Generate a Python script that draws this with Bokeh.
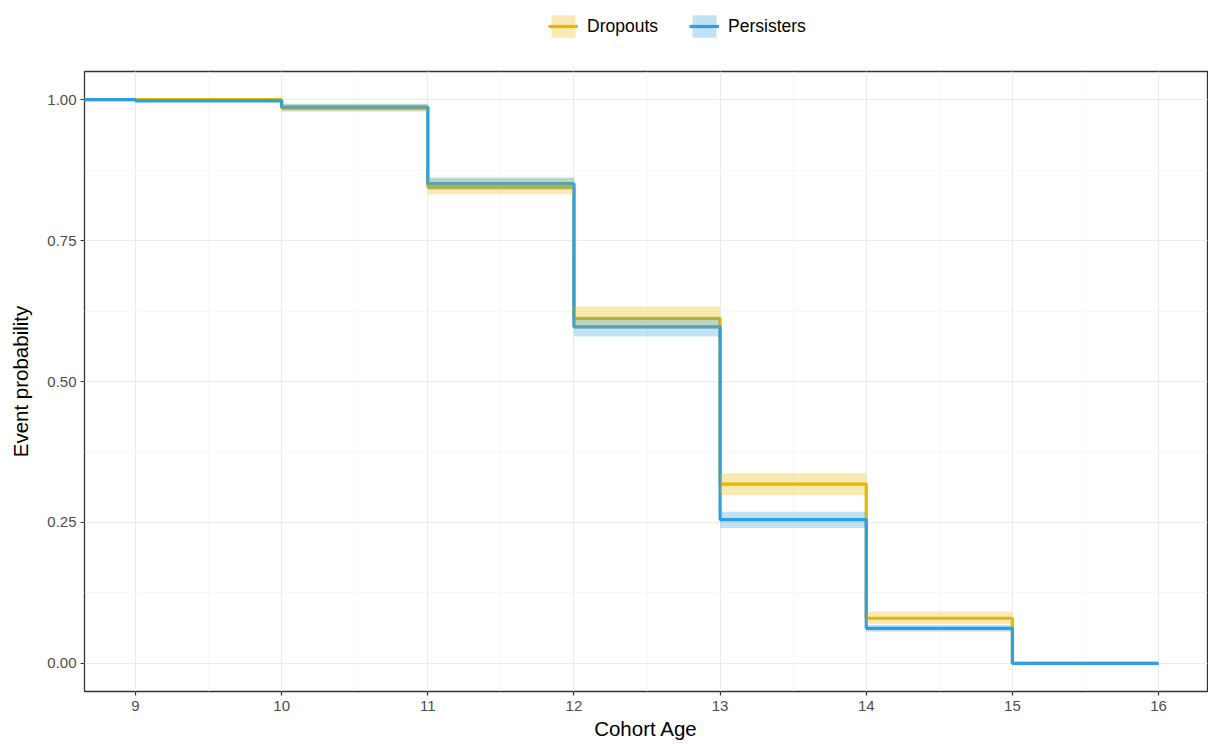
from bokeh.plotting import figure
from bokeh.layouts import column
from bokeh.models import (Range1d, SingleIntervalTicker, Legend, LegendItem,
                          ColumnDataSource, NumeralTickFormatter)
from bokeh.embed import file_html
from bokeh.resources import INLINE

# ---- data ----
time = [8, 9, 10, 11, 12, 13, 14, 15, 16]
drop_surv = [1.0, 1.0, 0.985, 0.845, 0.612, 0.318, 0.080, 0.0, 0.0]
drop_low = [1.0, 1.0, 0.978, 0.832, 0.594, 0.298, 0.070, 0.0, 0.0]
drop_high = [1.0, 1.0, 0.992, 0.860, 0.633, 0.337, 0.092, 0.0, 0.0]
pers_surv = [1.0, 0.998, 0.987, 0.851, 0.597, 0.255, 0.062, 0.0, 0.0]
pers_low = [1.0, 0.996, 0.981, 0.840, 0.580, 0.240, 0.056, 0.0, 0.0]
pers_high = [1.0, 1.0, 0.993, 0.862, 0.614, 0.269, 0.068, 0.0, 0.0]
groups = ["Dropouts", "Persisters"]
colors = ["#E7B800", "#2E9FDF"]

FONT = "Liberation Sans"
W = 1208
TOP_H = 70

series = [
    (drop_surv, drop_low, drop_high),
    (pers_surv, pers_low, pers_high),
]
line_srcs = [ColumnDataSource(dict(x=time, y=s)) for (s, lo, hi) in series]
band_srcs = [ColumnDataSource(dict(x=time, y1=lo, y2=hi)) for (s, lo, hi) in series]

# ---------- main plot ----------
p = figure(width=W, height=745 - TOP_H, output_backend="svg", toolbar_location=None,
           x_range=Range1d(8.651, 16.335), y_range=Range1d(-0.05, 1.05),
           min_border_left=84, min_border_right=1, min_border_top=1,
           min_border_bottom=54)

p.background_fill_color = "white"
p.border_fill_color = "white"
p.outline_line_color = "#333333"
p.outline_line_width = 1.3

p.xaxis.ticker = SingleIntervalTicker(interval=1, num_minor_ticks=2)
p.yaxis.ticker = SingleIntervalTicker(interval=0.25, num_minor_ticks=2)
for g in (p.xgrid, p.ygrid):
    g.grid_line_color = "#EBEBEB"
    g.grid_line_width = 1.2
    g.minor_grid_line_color = "#F3F3F3"
    g.minor_grid_line_width = 0.7

p.yaxis.formatter = NumeralTickFormatter(format="0.00")
for ax in (p.xaxis, p.yaxis):
    ax.axis_line_color = None
    ax.major_tick_line_color = "#333333"
    ax.major_tick_line_width = 1.2
    ax.major_tick_out = 4
    ax.major_tick_in = 0
    ax.minor_tick_line_color = None
    ax.major_label_text_font = FONT
    ax.major_label_text_font_size = "15px"
    ax.major_label_text_color = "#4D4D4D"
    ax.axis_label_text_font = FONT
    ax.axis_label_text_font_size = "20.5px"
    ax.axis_label_text_font_style = "normal"
    ax.axis_label_text_color = "black"
p.xaxis.axis_label = "Cohort Age"
p.yaxis.axis_label = "Event probability"
p.xaxis.major_label_standoff = 5
p.yaxis.major_label_standoff = 4
p.xaxis.axis_label_standoff = 3
p.yaxis.axis_label_standoff = 12

for src, c in zip(line_srcs, colors):
    p.step("x", "y", source=src, mode="after", line_color=c, line_width=3.2)
for src, c in zip(band_srcs, colors):
    p.varea_step(x="x", y1="y1", y2="y2", source=src, step_mode="after",
                 fill_color=c, fill_alpha=0.3)

# ---------- legend strip (top); its renderers lie outside its range ----------
top = figure(width=W, height=TOP_H, output_backend="svg", toolbar_location=None,
             x_range=Range1d(100, 101), y_range=Range1d(100, 101),
             min_border_left=0, min_border_right=0, min_border_top=0,
             min_border_bottom=0)
top.axis.visible = False
top.grid.visible = False
top.outline_line_color = None
top.background_fill_color = "white"
top.border_fill_color = "white"

items = []
for g, c, ls, bs in zip(groups, colors, line_srcs, band_srcs):
    b = top.varea_step(x="x", y1="y1", y2="y2", source=bs, step_mode="after",
                       fill_color=c, fill_alpha=0.3)
    l = top.step("x", "y", source=ls, mode="after", line_color=c, line_width=3.2)
    items.append(LegendItem(label=g, renderers=[b, l]))

legend = Legend(items=items, orientation="horizontal", location=(464, 30),
                padding=0, margin=0, spacing=31, glyph_width=30, glyph_height=28,
                label_standoff=9, label_text_font=FONT, label_text_font_size="17.5px",
                label_text_color="black", border_line_color=None,
                background_fill_alpha=0)
top.add_layout(legend, "center")

layout = column(top, p, spacing=0)
open("out.html", "w").write(file_html(layout, INLINE))
